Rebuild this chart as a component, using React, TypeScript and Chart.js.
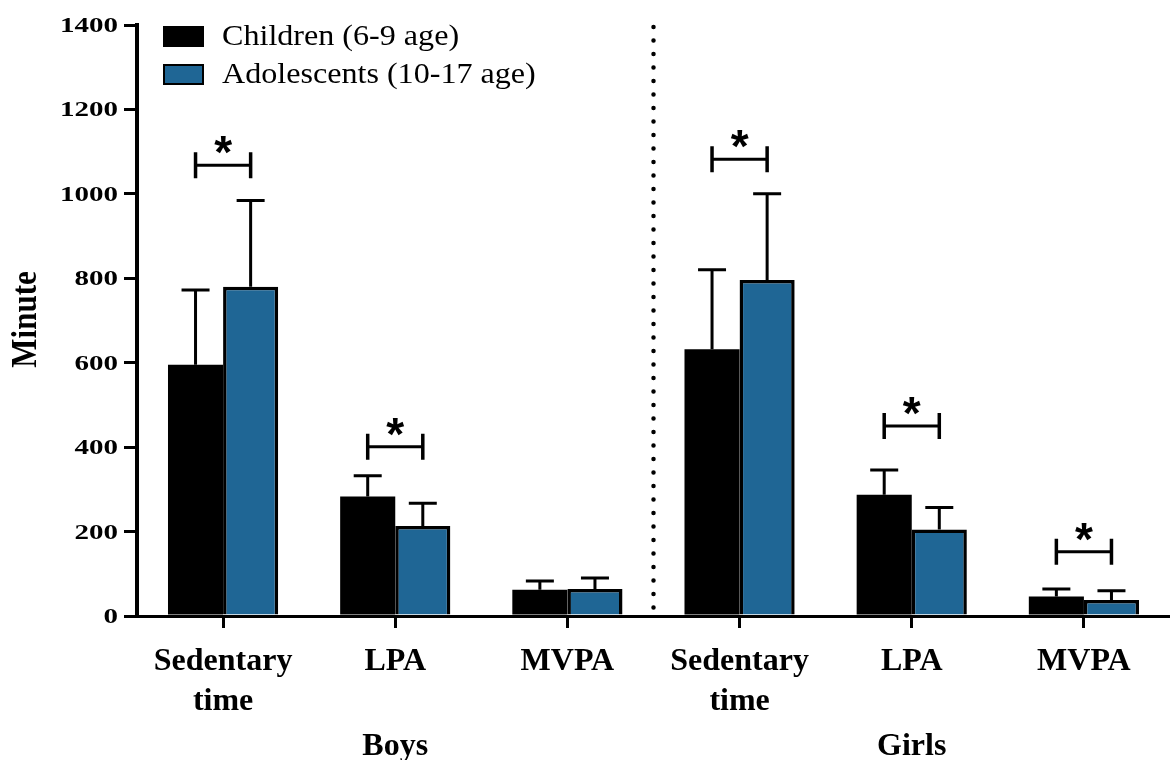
import React, { useEffect, useRef } from 'react';
import { Chart, registerables } from 'chart.js';

Chart.register(...registerables);

// ---------- data ----------
const categories: (string | string[])[] = [['Sedentary', 'time'], 'LPA', 'MVPA', ['Sedentary', 'time'], 'LPA', 'MVPA'];
const groupLabels = ['Boys', 'Girls'];
const groupCenterIndex = [1, 4];
const seriesNames = ['Children (6-9 age)', 'Adolescents (10-17 age)'];
const childrenMean = [595, 283, 62, 632, 287, 46];
const childrenSD = [177, 49, 21, 188, 59, 18];
const adolescentsMean = [780, 213, 64, 796, 205, 38];
const adolescentsSD = [204, 54, 26, 204, 52, 22];
const significanceLevel: (number | null)[] = [1068, 401, null, 1082, 450, 152];
const yMin = 0;
const yMax = 1400;
const yStep = 200;
const yTitle = 'Minute';

// ---------- style ----------
const SERIF = "'Liberation Serif', 'Times New Roman', serif";
const SANS = "'Liberation Sans', Arial, sans-serif";
const BLUE = '#1f6695';
const BLACK = '#000000';

const customDraw = {
  id: 'customDraw',
  afterDatasetsDraw(chart: any) {
    const ctx: CanvasRenderingContext2D = chart.ctx;
    const ys = chart.scales.y;
    const xs = chart.scales.x;
    const area = chart.chartArea;
    const means = [childrenMean, adolescentsMean];
    const sds = [childrenSD, adolescentsSD];
    ctx.save();
    ctx.strokeStyle = BLACK;
    ctx.lineWidth = 3;
    ctx.lineCap = 'butt';
    // error bars (upper only)
    for (let d = 0; d < 2; d++) {
      const meta = chart.getDatasetMeta(d);
      meta.data.forEach((bar: any, i: number) => {
        const top = ys.getPixelForValue(means[d][i]);
        const cap = ys.getPixelForValue(means[d][i] + sds[d][i]);
        ctx.beginPath();
        ctx.moveTo(bar.x, top);
        ctx.lineTo(bar.x, cap);
        ctx.moveTo(bar.x - 14, cap);
        ctx.lineTo(bar.x + 14, cap);
        ctx.stroke();
      });
    }
    // significance brackets
    const m0 = chart.getDatasetMeta(0);
    const m1 = chart.getDatasetMeta(1);
    significanceLevel.forEach((lvl, i) => {
      if (lvl == null) return;
      const x1 = m0.data[i].x;
      const x2 = m1.data[i].x;
      const yy = ys.getPixelForValue(lvl);
      ctx.lineWidth = 3;
      ctx.beginPath();
      ctx.moveTo(x1, yy);
      ctx.lineTo(x2, yy);
      ctx.stroke();
      ctx.lineWidth = 3.5;
      ctx.beginPath();
      ctx.moveTo(x1, yy - 13);
      ctx.lineTo(x1, yy + 13);
      ctx.moveTo(x2, yy - 13);
      ctx.lineTo(x2, yy + 13);
      ctx.stroke();
      // asterisk
      ctx.font = `bold 46px ${SANS}`;
      ctx.fillStyle = BLACK;
      ctx.textAlign = 'center';
      ctx.textBaseline = 'alphabetic';
      const mt = ctx.measureText('*');
      const cy = yy - 20;
      const base = cy + (mt.actualBoundingBoxAscent - mt.actualBoundingBoxDescent) / 2;
      ctx.fillText('*', (x1 + x2) / 2, base);
    });
    // dotted divider between groups
    const xd = (xs.getPixelForTick(2) + xs.getPixelForTick(3)) / 2;
    ctx.lineWidth = 4.5;
    ctx.lineCap = 'round';
    ctx.setLineDash([0, 13.5]);
    ctx.beginPath();
    ctx.moveTo(xd, area.top + 2);
    ctx.lineTo(xd, area.bottom - 4);
    ctx.stroke();
    ctx.setLineDash([]);
    ctx.restore();
  },
  afterDraw(chart: any) {
    const ctx: CanvasRenderingContext2D = chart.ctx;
    const ys = chart.scales.y;
    const xs = chart.scales.x;
    ctx.save();
    ctx.fillStyle = BLACK;
    // y tick labels
    ctx.font = `bold 20px ${SERIF}`;
    ctx.textAlign = 'right';
    ctx.textBaseline = 'alphabetic';
    ys.ticks.forEach((t: any) => {
      const py = ys.getPixelForValue(t.value);
      const label = String(t.value);
      const mt = ctx.measureText(label);
      ctx.save();
      ctx.translate(118, py + (mt.actualBoundingBoxAscent - mt.actualBoundingBoxDescent) / 2);
      ctx.scale(1.45, 1);
      ctx.fillText(label, 0, 0);
      ctx.restore();
    });
    // y title
    ctx.save();
    ctx.font = `bold 31px ${SERIF}`;
    ctx.textAlign = 'center';
    ctx.textBaseline = 'alphabetic';
    ctx.translate(23.7, 319.5);
    ctx.rotate(-Math.PI / 2);
    ctx.scale(1, 1.16);
    ctx.fillText(yTitle, 0, 10.3);
    ctx.restore();
    // group labels
    ctx.font = `bold 32px ${SERIF}`;
    ctx.textAlign = 'center';
    groupLabels.forEach((g, k) => {
      ctx.fillText(g, xs.getPixelForTick(groupCenterIndex[k]), 755);
    });
    // legend
    const colors = [BLACK, BLUE];
    const boxY = [27, 65];
    const textY = [45, 83];
    seriesNames.forEach((name, k) => {
      ctx.fillStyle = colors[k];
      ctx.fillRect(164, boxY[k], 39, 19);
      ctx.strokeStyle = BLACK;
      ctx.lineWidth = 2;
      ctx.strokeRect(164, boxY[k], 39, 19);
      ctx.fillStyle = BLACK;
      ctx.save();
      ctx.font = `30px ${SERIF}`;
      ctx.textAlign = 'left';
      ctx.translate(222, textY[k]);
      ctx.scale(1.07, 1);
      ctx.fillText(name, 0, 0);
      ctx.restore();
    });
    ctx.restore();
  },
};

export default function App() {
  const canvasRef = useRef<HTMLCanvasElement | null>(null);
  useEffect(() => {
    if (!canvasRef.current) return;
    const chart = new Chart(canvasRef.current, {
      type: 'bar',
      data: {
        labels: categories as any,
        datasets: [
          {
            label: seriesNames[0],
            data: childrenMean,
            backgroundColor: BLACK,
            borderColor: BLACK,
            borderWidth: 0,
            categoryPercentage: 0.64,
            barPercentage: 1.0,
          },
          {
            label: seriesNames[1],
            data: adolescentsMean,
            backgroundColor: BLUE,
            borderColor: BLACK,
            borderWidth: 3.5,
            categoryPercentage: 0.64,
            barPercentage: 1.0,
          },
        ],
      },
      options: {
        responsive: false,
        animation: false,
        devicePixelRatio: 1,
        layout: { padding: { top: 25, left: 0, right: 0, bottom: 0 } },
        plugins: { legend: { display: false }, tooltip: { enabled: false } },
        scales: {
          x: {
            type: 'category',
            offset: true,
            grid: {
              display: true,
              drawOnChartArea: false,
              drawTicks: true,
              tickLength: 12,
              lineWidth: 3,
              color: BLACK,
              offset: false,
            },
            border: { display: true, color: BLACK, width: 3 },
            ticks: {
              color: BLACK,
              font: { family: SERIF, size: 32, weight: 'bold', lineHeight: 1.25 },
              padding: 14,
              maxRotation: 0,
              minRotation: 0,
              autoSkip: false,
            },
            afterFit: (s: any) => {
              s.height = 144;
            },
          },
          y: {
            min: yMin,
            max: yMax,
            ticks: { stepSize: yStep, display: false },
            grid: {
              drawOnChartArea: false,
              drawTicks: true,
              tickLength: 13,
              lineWidth: 3,
              color: BLACK,
            },
            border: { display: true, color: BLACK, width: 4 },
            afterFit: (s: any) => {
              s.width = 137;
            },
          },
        },
      } as any,
      plugins: [customDraw],
    });
    return () => chart.destroy();
  }, []);
  return (
    <div style={{ position: 'fixed', left: 0, top: 0, width: 1170, height: 760, background: '#fff' }}>
      <canvas ref={canvasRef} width={1170} height={760} />
    </div>
  );
}
